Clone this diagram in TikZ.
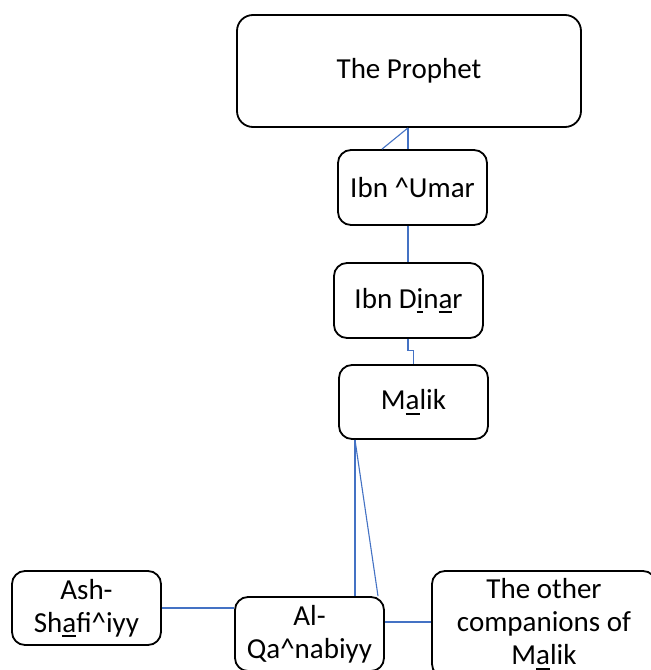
\documentclass[tikz,border=0pt]{standalone}
\usepackage{fontspec}
\setmainfont{Carlito}

% underline a single letter with a heavy bar
\newcommand\ubar[1]{\setbox0\hbox{#1}\rlap{\rule[-5pt]{\wd0}{2pt}}\box0}

\definecolor{linkblue}{HTML}{4472C4}
\tikzset{
  person/.style={draw=black, line width=1.8pt, rounded corners=13pt, fill=white,
    align=center, inner sep=0pt, minimum width=149pt, minimum height=74pt,
    font=\fontsize{29}{33}\selectfont},
  link/.style={draw=linkblue, line width=1.1pt},
}

\begin{document}
\begin{tikzpicture}[x=1pt, y=-1pt]
  \useasboundingbox (0,0) rectangle (651,670);
  \fill[white] (0,0) rectangle (651,670);

  % chain of narrators
  \node[person, minimum width=344pt, minimum height=112pt, rounded corners=16pt]
    (prophet) at (409,71) {The Prophet};
  \node[person, minimum height=75pt] (umar)  at (412.5,187.5) {Ibn \^{}Umar};
  \node[person, minimum height=75pt] (dinar) at (408.5,300.5) {Ibn D\ubar{i}n\ubar{a}r};
  \node[person] (malik) at (413.5,402) {M\ubar{a}lik};

  % students of Malik
  \node[person] (ash) at (86.5,608) {Ash-\\Sh\ubar{a}fi\^{}iyy};
  \node[person] (qa)  at (309.5,634) {Al-\\Qa\^{}nabiyy};
  \node[person, minimum width=224pt, minimum height=106pt]
    (other) at (544,624) {The other\\companions of\\M\ubar{a}lik};

  % connectors
  \draw[link] ([xshift=-1pt]prophet.south) -- ([xshift=-4.5pt]umar.north);
  \draw[link] ([xshift=-1pt]prophet.south) -- ([xshift=-30.5pt]umar.north);
  \draw[link] ([xshift=-4.5pt]umar.south) -- ([xshift=-0.5pt]dinar.north);
  \draw[link] ([xshift=-0.5pt]dinar.south) -- ++(0,12) -| (malik.north);
  \draw[link] ([xshift=-58.5pt]malik.south) -- ([xshift=45.5pt]qa.north);
  \draw[link] ([xshift=-58.5pt]malik.south) -- ([xshift=68.5pt]qa.north);
  \draw[link] (ash.east) -- (ash.east -| qa.west);
  \draw[link] ([yshift=12pt]qa.east) -- ([yshift=12pt]qa.east -| other.west);
\end{tikzpicture}
\end{document}
